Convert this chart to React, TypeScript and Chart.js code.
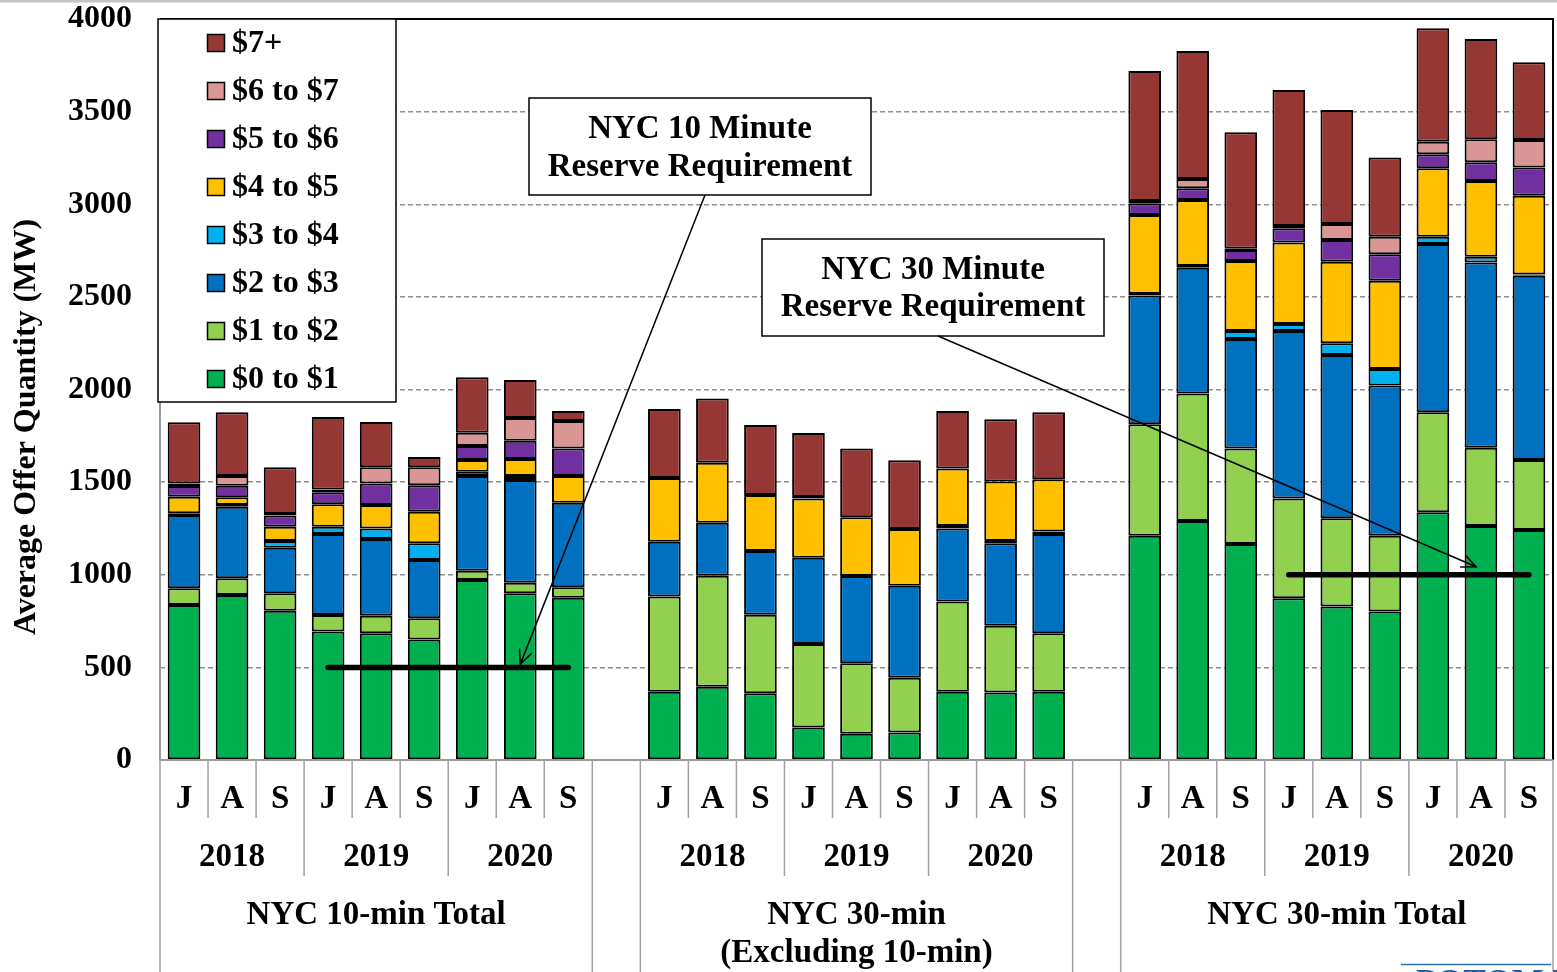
import { useEffect, useRef } from "react";
import { Chart, registerables } from "chart.js";

Chart.register(...registerables);

const W = 1557;
const H = 972;
const FONT = "'Liberation Serif', 'Times New Roman', serif";

const groupLabels = [["NYC 10-min Total"], ["NYC 30-min", "(Excluding 10-min)"], ["NYC 30-min Total"]];
const yearLabels = ["2018", "2019", "2020"];
const monthLabels = ["J", "A", "S"];

const seriesLabels = ["$0 to $1", "$1 to $2", "$2 to $3", "$3 to $4", "$4 to $5", "$5 to $6", "$6 to $7", "$7+"];
const seriesColors = ["#00B050", "#92D050", "#0070C0", "#00B0F0", "#FFC000", "#7030A0", "#D99694", "#953735"];

// Each array: 9 bars NYC 10-min Total, 9 bars NYC 30-min (Excl. 10-min), 9 bars NYC 30-min Total
const p0to1 = [837, 891, 806, 693, 684, 651, 972, 900, 876, 369, 396, 360, 175, 142, 148, 369, 364, 369, 1211, 1290, 1166, 873, 828, 801, 1337, 1263, 1242];
const p1to2 = [90, 90, 94, 90, 95, 114, 50, 57, 56, 513, 599, 424, 451, 380, 296, 486, 361, 315, 601, 689, 516, 538, 477, 410, 540, 423, 377];
const p2to3 = [395, 386, 246, 437, 414, 315, 511, 554, 457, 296, 286, 344, 466, 471, 497, 395, 445, 536, 695, 678, 591, 905, 881, 810, 908, 999, 995];
const p3to4 = [10, 10, 36, 39, 57, 90, 23, 22, 0, 0, 0, 0, 0, 0, 0, 13, 12, 13, 8, 10, 43, 38, 63, 90, 40, 32, 7];
const p4to5 = [89, 41, 77, 121, 127, 170, 63, 92, 144, 344, 324, 302, 320, 317, 306, 310, 321, 282, 427, 356, 378, 440, 441, 476, 369, 409, 425];
const p5to6 = [58, 63, 61, 65, 116, 143, 76, 99, 149, 0, 0, 0, 8, 0, 0, 0, 0, 0, 63, 63, 59, 77, 117, 143, 76, 101, 153];
const p6to7 = [14, 52, 8, 15, 87, 97, 72, 122, 148, 0, 0, 0, 0, 0, 0, 0, 0, 0, 12, 50, 7, 12, 86, 95, 68, 124, 148];
const p7plus = [330, 344, 252, 392, 245, 56, 299, 205, 54, 373, 346, 378, 345, 372, 371, 311, 336, 362, 702, 691, 628, 734, 616, 428, 612, 541, 419];

const seriesValues = [p0to1, p1to2, p2to3, p3to4, p4to5, p5to6, p6to7, p7plus];

// Reserve requirement lines: group index, value (MW), first and last bar within group
const reserveGroup = [0, 2];
const reserveValue = [500, 1000];
const reserveFirstBar = [3, 3];
const reserveLastBar = [8, 8];
const reserveText = [["NYC 10 Minute", "Reserve Requirement"], ["NYC 30 Minute", "Reserve Requirement"]];

const yTicks = [0, 500, 1000, 1500, 2000, 2500, 3000, 3500, 4000];

const BARS_PER_GROUP = 9;
const SLOT_PER_GROUP = 10; // 9 bars + 1 spacer
const N_SLOTS = 29;

function slotOf(bar: number): number {
  const g = Math.floor(bar / BARS_PER_GROUP);
  return g * SLOT_PER_GROUP + (bar % BARS_PER_GROUP);
}

function buildLabels(): string[] {
  const out: string[] = [];
  for (let s = 0; s < N_SLOTS; s++) out.push("");
  for (let b = 0; b < 27; b++) {
    const g = Math.floor(b / 9);
    const y = Math.floor((b % 9) / 3);
    const m = b % 3;
    out[slotOf(b)] = `${groupLabels[g].join(" ")} ${yearLabels[y]} ${monthLabels[m]}`;
  }
  return out;
}

function spread(values: number[]): (number | null)[] {
  const out: (number | null)[] = [];
  for (let s = 0; s < N_SLOTS; s++) out.push(null);
  values.forEach((v, b) => {
    out[slotOf(b)] = v === 0 ? null : v;
  });
  return out;
}

function reserveData(k: number): (number | null)[] {
  const out: (number | null)[] = [];
  for (let s = 0; s < N_SLOTS; s++) out.push(null);
  for (let b = reserveFirstBar[k]; b <= reserveLastBar[k]; b++) {
    out[reserveGroup[k] * SLOT_PER_GROUP + b] = reserveValue[k];
  }
  return out;
}

function drawArrow(ctx: CanvasRenderingContext2D, x1: number, y1: number, x2: number, y2: number) {
  ctx.save();
  ctx.strokeStyle = "#000";
  ctx.lineWidth = 1.5;
  ctx.beginPath();
  ctx.moveTo(x1, y1);
  ctx.lineTo(x2, y2);
  ctx.stroke();
  const ang = Math.atan2(y2 - y1, x2 - x1);
  const L = 16;
  const a = 0.42;
  ctx.beginPath();
  ctx.moveTo(x2 - L * Math.cos(ang - a), y2 - L * Math.sin(ang - a));
  ctx.lineTo(x2, y2);
  ctx.lineTo(x2 - L * Math.cos(ang + a), y2 - L * Math.sin(ang + a));
  ctx.stroke();
  ctx.restore();
}

function drawTextBox(ctx: CanvasRenderingContext2D, x1: number, y1: number, x2: number, y2: number, lines: string[], lineYs: number[]) {
  ctx.save();
  ctx.fillStyle = "#fff";
  ctx.fillRect(x1, y1, x2 - x1, y2 - y1);
  ctx.strokeStyle = "#000";
  ctx.lineWidth = 1.5;
  ctx.strokeRect(x1, y1, x2 - x1, y2 - y1);
  ctx.fillStyle = "#000";
  ctx.font = `bold 33px ${FONT}`;
  ctx.textAlign = "center";
  ctx.textBaseline = "middle";
  lines.forEach((t, i) => ctx.fillText(t, (x1 + x2) / 2, lineYs[i]));
  ctx.restore();
}

const overlayPlugin = {
  id: "overlay",
  beforeDraw(chart: any) {
    const ctx: CanvasRenderingContext2D = chart.ctx;
    ctx.save();
    ctx.fillStyle = "#fff";
    ctx.fillRect(0, 0, W, H);
    ctx.fillStyle = "#c4c4c4";
    ctx.fillRect(0, 0, W, 2.5);
    ctx.restore();
  },
  afterDraw(chart: any) {
    const ctx: CanvasRenderingContext2D = chart.ctx;
    const area = chart.chartArea;
    const xs = chart.scales.x;
    const ys = chart.scales.y;
    const slot = xs.getPixelForValue(1) - xs.getPixelForValue(0);
    const x0 = area.left;
    const yAxis = ys.getPixelForValue(0);

    ctx.save();
    // plot border top/right
    ctx.strokeStyle = "#000";
    ctx.lineWidth = 2;
    ctx.beginPath();
    ctx.moveTo(area.left, area.top);
    ctx.lineTo(area.right, area.top);
    ctx.lineTo(area.right, yAxis);
    ctx.stroke();

    // axis lines
    ctx.strokeStyle = "#9a9a9a";
    ctx.lineWidth = 2;
    ctx.beginPath();
    ctx.moveTo(area.left, area.top);
    ctx.lineTo(area.left, yAxis);
    ctx.lineTo(area.right, yAxis);
    ctx.stroke();

    // separators
    ctx.lineWidth = 1.5;
    ctx.strokeStyle = "#a0a0a0";
    const full = [0, 9, 10, 19, 20, 29];
    for (let k = 0; k <= N_SLOTS; k++) {
      const bx = x0 + k * slot;
      let bottom = 818;
      if (full.includes(k)) bottom = H;
      else {
        const gs = Math.floor(k / SLOT_PER_GROUP) * SLOT_PER_GROUP;
        if ((k - gs) % 3 === 0) bottom = 876;
      }
      ctx.beginPath();
      ctx.moveTo(bx, yAxis);
      ctx.lineTo(bx, bottom);
      ctx.stroke();
    }

    // x labels
    ctx.fillStyle = "#000";
    ctx.font = `bold 33px ${FONT}`;
    ctx.textAlign = "center";
    ctx.textBaseline = "middle";
    for (let b = 0; b < 27; b++) {
      const px = xs.getPixelForValue(slotOf(b));
      ctx.fillText(monthLabels[b % 3], px, 799);
      if (b % 3 === 1) ctx.fillText(yearLabels[Math.floor((b % 9) / 3)], px, 857);
      if (b % 9 === 4) {
        const gl = groupLabels[Math.floor(b / 9)];
        gl.forEach((t, i) => ctx.fillText(t, px, 915 + i * 38));
      }
    }

    // y title
    ctx.save();
    ctx.font = `bold 32px ${FONT}`;
    ctx.translate(27, 427);
    ctx.rotate(-Math.PI / 2);
    ctx.fillText("Average Offer Quantity (MW)", 0, 0);
    ctx.restore();

    // legend
    ctx.font = `bold 32px ${FONT}`;
    ctx.fillStyle = "#fff";
    ctx.fillRect(158, area.top, 238, 402 - area.top);
    ctx.strokeStyle = "#000";
    ctx.lineWidth = 1.5;
    ctx.strokeRect(158, area.top, 238, 402 - area.top);
    ctx.textAlign = "left";
    for (let k = 0; k < seriesLabels.length; k++) {
      const idx = seriesLabels.length - 1 - k;
      const cy = 43 + k * 48;
      ctx.fillStyle = seriesColors[idx];
      ctx.fillRect(207.5, cy - 8.5, 17, 17);
      ctx.strokeStyle = "#000";
      ctx.lineWidth = 1.5;
      ctx.strokeRect(207.5, cy - 8.5, 17, 17);
      ctx.fillStyle = "#000";
      ctx.fillText(seriesLabels[idx], 232, cy + 1);
    }

    // annotation boxes and arrows
    drawTextBox(ctx, 529, 98, 871, 195, reserveText[0], [129, 167]);
    drawTextBox(ctx, 762, 239, 1104, 336, reserveText[1], [270, 307]);
    const tip1x = xs.getPixelForValue(reserveGroup[0] * SLOT_PER_GROUP + 7);
    const tip1y = ys.getPixelForValue(reserveValue[0]) - 3;
    drawArrow(ctx, 705, 195, tip1x, tip1y);
    const tip2x = xs.getPixelForValue(reserveGroup[1] * SLOT_PER_GROUP + 6.9);
    const tip2y = ys.getPixelForValue(reserveValue[1]) - 8;
    drawArrow(ctx, 938, 336, tip2x, tip2y);

    // watermark fragment
    ctx.strokeStyle = "#2E75B6";
    ctx.lineWidth = 1.5;
    ctx.beginPath();
    ctx.moveTo(1401, 964.5);
    ctx.lineTo(1551, 964.5);
    ctx.stroke();
    ctx.fillStyle = "#2F5597";
    ctx.font = `bold 34px ${FONT}`;
    ctx.textAlign = "left";
    ctx.textBaseline = "top";
    ctx.fillText("POTOMAC", 1416, 966);
    ctx.restore();
  },
};

export default function App() {
  const ref = useRef<HTMLCanvasElement | null>(null);

  useEffect(() => {
    document.body.style.margin = "0";
    const canvas = ref.current;
    if (!canvas) return;
    const labels = buildLabels();
    const barSets: any[] = seriesValues.map((vals, i) => ({
      type: "bar",
      label: seriesLabels[i],
      data: spread(vals),
      backgroundColor: seriesColors[i],
      borderColor: "#000",
      borderWidth: 2,
      borderSkipped: false,
      categoryPercentage: 1,
      barPercentage: 0.68,
      stack: "offers",
      order: 1,
    }));
    const lineSets: any[] = reserveValue.map((_, k) => ({
      type: "line",
      label: "reserve" + k,
      data: reserveData(k),
      borderColor: "#000",
      borderWidth: 5.5,
      borderCapStyle: "round",
      pointRadius: 0,
      spanGaps: false,
      fill: false,
      stack: "req" + k,
      order: 0,
    }));
    const chart = new Chart(canvas, {
      type: "bar",
      data: { labels, datasets: [...barSets, ...lineSets] },
      options: {
        animation: false,
        responsive: false,
        devicePixelRatio: 1,
        layout: { padding: { left: 0, top: 19, right: 4, bottom: 212 } },
        plugins: { legend: { display: false }, tooltip: { enabled: false } },
        scales: {
          x: { display: false, stacked: true, offset: true },
          y: {
            stacked: true,
            min: 0,
            max: 4000,
            afterFit: (s: any) => {
              s.width = 160;
              s.paddingTop = 0;
              s.paddingBottom = 0;
            },
            afterBuildTicks: (s: any) => {
              s.ticks = yTicks.map((v) => ({ value: v }));
            },
            ticks: {
              padding: 28,
              color: "#000",
              font: { family: FONT, size: 32, weight: "bold", lineHeight: 1 },
              callback: (v: any) => String(v),
            },
            grid: {
              drawTicks: false,
              lineWidth: 1.5,
              color: (c: any) => (c.tick && (c.tick.value === 0 || c.tick.value === 4000) ? "rgba(0,0,0,0)" : "#8f8f8f"),
            },
            border: { display: false, dash: [5, 3] },
          },
        },
      },
      plugins: [overlayPlugin],
    } as any);
    return () => chart.destroy();
  }, []);

  return (
    <div style={{ position: "absolute", left: 0, top: 0, width: W, height: H }}>
      <canvas ref={ref} width={W} height={H} style={{ width: W, height: H, display: "block" }} />
    </div>
  );
}
